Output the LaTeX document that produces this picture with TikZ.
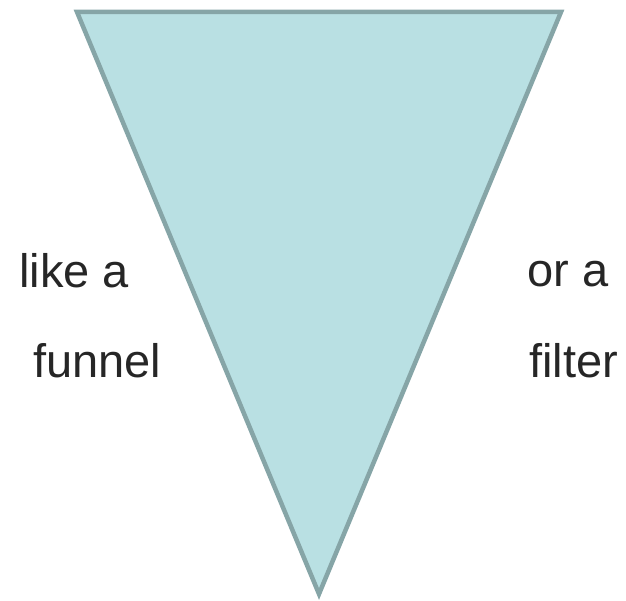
\documentclass[tikz,border=0pt]{standalone}
\usepackage{fontspec}
\setmainfont{Liberation Sans}
\definecolor{funfill}{HTML}{B9E0E3}
\definecolor{funline}{HTML}{86A5A7}
\definecolor{txt}{HTML}{262626}
\begin{document}
\begin{tikzpicture}[x=1pt,y=1pt,
  lbl/.style={anchor=base west,inner sep=0pt,text=txt,font=\fontsize{47}{52}\selectfont}]
\useasboundingbox (0,0) rectangle (626,601);
\coordinate (tl) at (77,589);
\coordinate (tr) at (561,589);
\coordinate (bt) at (319,7);
\draw[fill=funfill,draw=funline,line width=4.5pt,line join=miter] (tl) -- (tr) -- (bt) -- cycle;
\node[lbl] (l1) at (19,313) {like a};
\node[lbl] (l2) at (33,223) {funnel};
\node[lbl] (r1) at (527,314) {or a};
\node[lbl] (r2) at (529,223) {filter};
\end{tikzpicture}
\end{document}
